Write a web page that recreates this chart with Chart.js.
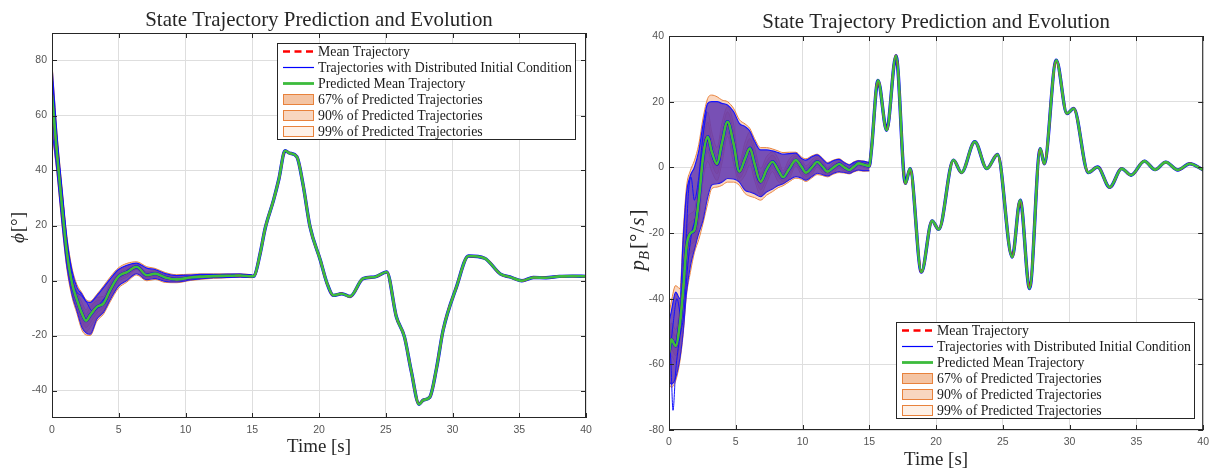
<!DOCTYPE html>
<html>
<head>
<meta charset="utf-8">
<script src="https://cdn.jsdelivr.net/npm/chart.js@4.4.1/dist/chart.umd.min.js"></script>
<style>
  html, body { margin: 0; padding: 0; background: #fff; }
  #wrap { position: relative; width: 1215px; height: 470px; }
  canvas { position: absolute; top: 0; }
  #phiChart { left: 0; }
  #pbChart { left: 610px; }
</style>
</head>
<body>
<div id="wrap">
  <canvas id="phiChart" width="600" height="470"></canvas>
  <canvas id="pbChart" width="605" height="470"></canvas>
</div>
<script>
// ticks
const timeTicks = [0, 5, 10, 15, 20, 25, 30, 35, 40];
const phiTicks = [-40, -20, 0, 20, 40, 60, 80];
const pbTicks = [-80, -60, -40, -20, 0, 20, 40];

const legendLabels = [
  'Mean Trajectory',
  'Trajectories with Distributed Initial Condition',
  'Predicted Mean Trajectory',
  '67% of Predicted Trajectories',
  '90% of Predicted Trajectories',
  '99% of Predicted Trajectories'
];

// ---- roll angle phi [deg] ----
const phiTime = [0, 0.37, 0.75, 1.12, 1.5, 1.87, 2.24, 2.55, 2.86, 3.36, 3.86, 4.35, 4.98, 5.6, 6.34, 7.1, 7.72, 8.48, 9.35, 10.35, 11.1, 12.1, 13.1, 14.1, 15.0,
  15.15, 15.6, 15.97, 16.6, 17.0, 17.46, 17.8, 18.34, 18.8, 19.33, 20.1, 20.6, 21.08, 21.7, 22.33, 23.3, 24.2, 25.07, 25.8, 26.4,
  26.9, 27.5, 27.8, 28.3, 28.8, 29.3, 30.3, 31.2, 32.4, 33.6, 34.3, 35.2, 36.05, 37.0, 38.0, 39.0, 40.0];
const phiMean = [67.6, 46.3, 26.9, 9.9, -1, -7.1, -12, -14.6, -12.6, -9.6, -8.3, -3.5, 1.5, 3.0, 5.0, 1.9, 2.5, 1.1, 0.4, 1.1, 1.4, 1.6, 1.7, 1.8, 1.5,
  1.7, 10, 19, 29.3, 37, 47.2, 46.3, 45, 35, 19.5, 7.4, -1, -5.4, -4.8, -5.8, 0.7, 1.3, 3.1, -13.3, -20.5,
  -32.7, -45, -43.5, -42.4, -32, -18, -2.3, 8.9, 8.1, 2.3, 1.3, -0.1, 1.1, 1.0, 1.5, 1.6, 1.5];
// spread of the trajectories, first 25 time points (t <= 15)
const phiBlueHi = [78, 53, 33, 15, 3.5, -2.5, -5, -7.5, -8, -5.5, -2.5, 0.5, 4, 5.5, 6.3, 4.5, 4, 2.5, 1.8, 2.0, 2.2, 2.2, 2.3, 2.3, 2.0];
const phiBlueLo = [55, 40, 21, 5, -5, -11, -17, -19, -19.5, -14, -11.5, -7, -2, 0, 2.5, 0.3, 0.8, -0.3, -0.5, 0.2, 0.6, 1.0, 1.1, 1.3, 1.1];
const phiHi99 = [79, 54, 34, 16, 4.5, -1.5, -4.5, -7, -7.5, -5, -2, 1.2, 4.6, 6.2, 6.8, 5, 4.4, 2.9, 2.1, 2.3, 2.4, 2.4, 2.4, 2.4, 2.1];
const phiLo99 = [54, 39, 20, 4, -6, -12, -18, -19.8, -20, -14.8, -12.2, -7.8, -2.8, -0.6, 2.0, -0.1, 0.4, -0.7, -0.8, 0, 0.4, 0.8, 1.0, 1.2, 1.0];
const phiHalf90 = [6, 4, 3.5, 3, 3, 3, 4, 4, 4.5, 3.5, 2.5, 2.5, 2, 1.8, 1.0, 1.2, 1.2, 1.0, 0.8, 0.7, 0.6, 0.5, 0.4, 0.4, 0.3];
const phiHalf67 = [3.5, 2.5, 2, 2, 2, 2, 2.5, 2.5, 2.8, 2.2, 1.6, 1.6, 1.3, 1.1, 0.7, 0.8, 0.8, 0.6, 0.5, 0.4, 0.4, 0.3, 0.3, 0.3, 0.2];
const phiTrajTime = [0, 0.4, 0.8, 1.2, 1.6, 1.9, 2.2, 2.6, 3.0, 3.5, 4.0];
const phiTrajVal = [75, 50, 30, 11, -1, -4.5, -5.5, -8, -11, -9, -6];

// ---- roll rate p_B [deg/s] ----
const pbTime = [0, 0.17, 0.5, 0.82, 1.06, 1.31, 1.6, 1.9, 2.23, 2.55, 2.9, 3.2, 3.6, 3.96, 4.38, 4.83, 5.27, 5.7, 6.06, 6.4,
  6.86, 7.3, 7.75, 8.17, 8.54, 9.0, 9.5, 9.9, 10.25, 10.7, 11.1, 11.5, 11.87, 12.3, 12.74, 13.1, 13.5, 13.85, 14.2, 14.6, 15.0,
  15.15, 15.65, 16.3, 17.0, 17.7, 18.05, 18.9, 19.7, 20.2, 21.3, 21.9, 22.9, 23.8, 24.6, 25.7, 26.3, 27.0, 27.8, 28.1, 29.0,
  29.8, 30.3, 31.4, 32.1, 33.0, 33.9, 34.6, 35.6, 36.4, 37.2, 38.1, 39.0, 40.0];
const pbMean = [-56.6, -52.4, -54.4, -47.5, -37.4, -24.2, -20.1, -19.1, -10, 3.2, 9.3, 4.8, 1.0, 7.3, 13.9, 7.3, -1.3, 2.7, 5.8, 1.2,
  -4.4, -0.8, 1.7, -0.8, -3.0, -0.5, 2.2, 0.3, -1.6, 0, 1.7, 0.2, -1.3, -0.1, 1.0, 0.1, -0.8, 0.2, 1.2, 0.8, 0.4,
  5, 26.5, 11.3, 34, -4.9, -0.4, -31.9, -16.3, -18.9, 2.2, -1.6, 7.8, -0.4, 3.9, -27.3, -10, -36.9, 5.7, 1.1, 32.6,
  16.4, 17.9, -1.6, 0.1, -6.1, -0.4, -2.4, 1.9, -0.7, 1.6, -0.8, 1.1, -0.8];
// spread of the trajectories, first 41 time points (t <= 15)
const pbBlueHi = [-47, -44, -38, -40, -22, -8, -2.5, 0, 5, 13, 19.5, 20, 20, 19.5, 19, 17, 13.4, 12.4, 11, 8,
  5.3, 5.3, 5, 4.5, 4, 4.2, 4.3, 2.8, 2.2, 3.2, 3.8, 2.5, 1.2, 2.0, 2.4, 1.5, 0.7, 1.5, 2.0, 1.8, 1.4];
const pbBlueLo = [-65, -66, -64, -58, -50, -38, -30, -25, -20, -16, -9, -5.4, -5, -4.5, -3.4, -3.5, -4.5, -7, -7.5, -8,
  -8.9, -7.5, -6.6, -5.5, -5, -3.8, -2.8, -3.2, -3.9, -2.8, -1.8, -2.2, -2.6, -1.8, -1.3, -1.5, -1.8, -1.2, -0.8, -1.0, -1.0];
const pbHi99 = [-45, -41, -36, -37, -20, -6, -1, 2, 7, 15, 21, 22, 21.5, 20.5, 20, 18, 14.5, 13.2, 11.8, 8.8,
  6, 6, 5.6, 5, 4.5, 4.6, 4.6, 3.2, 2.6, 3.5, 4.0, 2.8, 1.5, 2.2, 2.6, 1.7, 0.9, 1.7, 2.1, 1.9, 1.5];
const pbLo99 = [-66, -67, -65, -59, -51, -39, -32, -26, -22, -17, -11, -6.5, -6, -5.5, -4.5, -4.5, -5.5, -8, -8.8, -9.2,
  -10, -8.5, -7.4, -6.2, -5.6, -4.4, -3.3, -3.6, -4.3, -3.2, -2.2, -2.5, -2.9, -2.1, -1.6, -1.7, -2.0, -1.4, -1.0, -1.2, -1.1];
const pbHalf90 = [4, 5, 5, 5, 6, 7, 6, 6, 6.5, 7, 7.5, 6, 5, 6, 4.5, 6, 3, 5, 5, 5,
  4, 4, 3, 3.5, 2, 3, 1.8, 2.5, 2, 2.2, 1.6, 1.8, 1.2, 1.5, 1.2, 1.2, 0.9, 1, 0.7, 0.8, 0.8];
const pbHalf67 = [2.5, 3, 3, 3, 3.5, 4, 3.5, 3.5, 4, 4, 4.5, 3.5, 3, 3.5, 3, 3.5, 2, 3, 3, 3,
  2.5, 2.5, 2, 2, 1.3, 1.8, 1.2, 1.5, 1.2, 1.3, 1, 1.1, 0.8, 0.9, 0.8, 0.7, 0.6, 0.6, 0.5, 0.5, 0.5];
const pbTrajATime = [0, 0.15, 0.3, 0.5, 0.8, 1.1, 1.4, 1.7, 2.0, 2.3];
const pbTrajAVal = [-48, -60, -74, -62, -52, -45, -30, -20, -15, -6];
const pbTrajBTime = [0, 0.3, 0.6, 0.9, 1.2, 1.45, 1.65, 1.9, 2.2, 2.5, 2.8];
const pbTrajBVal = [-60, -48, -40, -45, -30, -8, -3, -10, -4, 8, 17];

const SERIF = '"Liberation Serif", "Times New Roman", serif';
const SANS = '"Liberation Sans", Arial, sans-serif';
const AXIS = '#262626';
const ORANGE = '#e8823c';

function pts(times, vals) { return vals.map((v, i) => ({ x: times[i], y: v })); }
function shifted(times, base, half, sign) { return half.map((h, i) => ({ x: times[i], y: base[i] + sign * h })); }

function buildDatasets(d) {
  const early = d.time.slice(0, d.blueHi.length);
  const line = { pointRadius: 0, cubicInterpolationMode: 'monotone', fill: false, borderJoinStyle: 'round' };
  const sets = [
    { ...line, label: legendLabels[2], data: pts(d.time, d.mean), borderColor: '#3dbb3d', borderWidth: 2.6, order: 0 },
    { ...line, label: legendLabels[0], data: pts(d.time, d.mean), borderColor: '#ff0000', borderWidth: 2.2, borderDash: [6, 4], order: 1 },
    { ...line, label: legendLabels[1], data: pts(d.time, d.mean), borderColor: '#0000ff', borderWidth: 3.4, order: 2 }
  ];
  d.trajs.forEach(tr => sets.push({ ...line, data: pts(tr[0], tr[1]), borderColor: '#1212ff', borderWidth: 1, order: 2 }));
  sets.push(
    { ...line, data: pts(early, d.blueHi), borderColor: '#1414ff', borderWidth: 1.2, backgroundColor: 'rgba(92,50,178,0.82)', fill: '+1', order: 3 },
    { ...line, data: pts(early, d.blueLo), borderColor: '#1414ff', borderWidth: 1.2, order: 3 },
    { ...line, data: shifted(early, d.mean, d.h67, 1), borderColor: ORANGE, borderWidth: 0.8, backgroundColor: 'rgba(236,140,80,0.4)', fill: '+1', order: 4 },
    { ...line, data: shifted(early, d.mean, d.h67, -1), borderColor: ORANGE, borderWidth: 0.8, order: 4 },
    { ...line, data: shifted(early, d.mean, d.h90, 1), borderColor: ORANGE, borderWidth: 0.8, backgroundColor: 'rgba(240,150,90,0.35)', fill: '+1', order: 5 },
    { ...line, data: shifted(early, d.mean, d.h90, -1), borderColor: ORANGE, borderWidth: 0.8, order: 5 },
    { ...line, data: pts(early, d.hi99), borderColor: ORANGE, borderWidth: 1, backgroundColor: 'rgba(242,160,105,0.42)', fill: '+1', order: 6 },
    { ...line, data: pts(early, d.lo99), borderColor: ORANGE, borderWidth: 1, order: 6 }
  );
  return sets;
}

function fitSize(ctx, text, font, width) {
  ctx.font = '100px ' + font;
  return 100 * width / ctx.measureText(text).width;
}

// draws runs of text ({t, it, sub}) centred on (cx, cy), rotated by rot
function drawRuns(ctx, runs, cx, cy, size, rot) {
  ctx.save();
  ctx.translate(cx, cy);
  ctx.rotate(rot);
  const fontOf = r => (r.it ? 'italic ' : '') + (r.sub ? size * 0.7 : size) + 'px ' + SERIF;
  let total = 0;
  runs.forEach(r => { ctx.font = fontOf(r); total += ctx.measureText(r.t).width + (r.gap || 0); });
  let x = -total / 2;
  ctx.fillStyle = AXIS;
  ctx.textBaseline = 'alphabetic';
  ctx.textAlign = 'left';
  runs.forEach(r => {
    ctx.font = fontOf(r);
    ctx.fillText(r.t, x, (r.sub ? size * 0.22 : 0) + size * 0.33);
    x += ctx.measureText(r.t).width + (r.gap || 0);
  });
  ctx.restore();
}

const frame = {
  id: 'frame',
  afterDraw(chart, args, o) {
    const { ctx, chartArea: a, scales } = chart;
    ctx.save();
    // box and inward ticks
    ctx.strokeStyle = AXIS;
    ctx.lineWidth = 1;
    ctx.strokeRect(a.left + 0.5, a.top + 0.5, a.right - a.left - 1, a.bottom - a.top - 1);
    ctx.beginPath();
    timeTicks.forEach(v => {
      const px = Math.round(scales.x.getPixelForValue(v)) + 0.5;
      ctx.moveTo(px, a.bottom); ctx.lineTo(px, a.bottom - 5);
      ctx.moveTo(px, a.top); ctx.lineTo(px, a.top + 5);
    });
    o.yTicks.forEach(v => {
      const py = Math.round(scales.y.getPixelForValue(v)) + 0.5;
      ctx.moveTo(a.left, py); ctx.lineTo(a.left + 5, py);
      ctx.moveTo(a.right, py); ctx.lineTo(a.right - 5, py);
    });
    ctx.stroke();

    // title
    const title = 'State Trajectory Prediction and Evolution';
    const ts = fitSize(ctx, title, SERIF, 348);
    ctx.font = ts + 'px ' + SERIF;
    ctx.fillStyle = AXIS;
    ctx.textAlign = 'center';
    ctx.textBaseline = 'alphabetic';
    ctx.fillText(title, (a.left + a.right) / 2, o.titleY);

    // x axis title
    const xs = fitSize(ctx, 'Time [s]', SERIF, 64);
    ctx.font = xs + 'px ' + SERIF;
    ctx.fillText('Time [s]', (a.left + a.right) / 2, o.xTitleY);

    // y axis title
    drawRuns(ctx, o.yRuns, o.yTitleX, (a.top + a.bottom) / 2 + o.yShift, o.ySize, -Math.PI / 2);

    // legend
    const L = o.legend;
    ctx.fillStyle = '#fff';
    ctx.fillRect(L.x, L.y, 299, 97);
    ctx.strokeStyle = AXIS;
    ctx.strokeRect(L.x + 0.5, L.y + 0.5, 298, 96);
    const ls = fitSize(ctx, legendLabels[1], SERIF, 254);
    const swatch = [
      { c: '#ff0000', w: 2.4, dash: [7, 4.5] },
      { c: '#0000ff', w: 1.2 },
      { c: '#3dbb3d', w: 2.8 },
      { fill: '#f4c4a3' },
      { fill: '#f8d6c0' },
      { fill: '#fdf0e6' }
    ];
    legendLabels.forEach((lab, i) => {
      const cy = L.y + 8.5 + i * 16;
      const s = swatch[i];
      if (s.fill) {
        ctx.fillStyle = s.fill;
        ctx.fillRect(L.x + 6, cy - 5.5, 31, 11);
        ctx.strokeStyle = ORANGE;
        ctx.lineWidth = 1;
        ctx.strokeRect(L.x + 6.5, cy - 5, 30, 10);
      } else {
        ctx.strokeStyle = s.c;
        ctx.lineWidth = s.w;
        ctx.setLineDash(s.dash || []);
        ctx.beginPath();
        ctx.moveTo(L.x + 6, cy); ctx.lineTo(L.x + 37, cy);
        ctx.stroke();
        ctx.setLineDash([]);
      }
      ctx.fillStyle = '#1a1a1a';
      ctx.font = ls + 'px ' + SERIF;
      ctx.textAlign = 'left';
      ctx.textBaseline = 'middle';
      ctx.fillText(lab, L.x + 41, cy + 0.5);
    });
    ctx.restore();
  }
};

function makeChart(id, d, cfg) {
  const tickFont = { family: SANS, size: 10.5 };
  new Chart(document.getElementById(id), {
    type: 'line',
    data: { datasets: buildDatasets(d) },
    options: {
      responsive: false,
      animation: false,
      events: [],
      layout: { padding: { left: 0, top: cfg.top, right: cfg.right, bottom: 0 } },
      plugins: { legend: { display: false }, tooltip: { enabled: false }, frame: cfg.frame },
      scales: {
        x: {
          type: 'linear', min: 0, max: 40,
          afterBuildTicks: s => { s.ticks = timeTicks.map(v => ({ value: v })); },
          afterFit: s => { s.height = cfg.xHeight; },
          grid: { color: '#dedede', drawTicks: false },
          border: { display: false },
          ticks: { padding: 6, color: '#555555', font: tickFont, maxRotation: 0, autoSkip: false }
        },
        y: {
          type: 'linear', min: cfg.yMin, max: cfg.yMax,
          afterBuildTicks: s => { s.ticks = cfg.frame.yTicks.map(v => ({ value: v })); },
          afterFit: s => { s.width = cfg.yWidth; },
          grid: { color: '#dedede', drawTicks: false },
          border: { display: false },
          ticks: { padding: 5, color: '#555555', font: tickFont, autoSkip: false }
        }
      }
    },
    plugins: [frame]
  });
}

makeChart('phiChart', {
  time: phiTime, mean: phiMean, blueHi: phiBlueHi, blueLo: phiBlueLo,
  hi99: phiHi99, lo99: phiLo99, h90: phiHalf90, h67: phiHalf67,
  trajs: [[phiTrajTime, phiTrajVal]]
}, {
  top: 33, right: 14, xHeight: 52, yWidth: 52, yMin: -50, yMax: 90,
  frame: {
    yTicks: phiTicks, titleY: 26, xTitleY: 452, yTitleX: 18, yShift: 2, ySize: 19,
    yRuns: [{ t: '\u03D5', it: true, gap: 1 }, { t: '[\u00B0]' }],
    legend: { x: 277, y: 43 }
  }
});

makeChart('pbChart', {
  time: pbTime, mean: pbMean, blueHi: pbBlueHi, blueLo: pbBlueLo,
  hi99: pbHi99, lo99: pbLo99, h90: pbHalf90, h67: pbHalf67,
  trajs: [[pbTrajATime, pbTrajAVal], [pbTrajBTime, pbTrajBVal]]
}, {
  top: 36, right: 10, xHeight: 40, yWidth: 59, yMin: -80, yMax: 40,
  frame: {
    yTicks: pbTicks, titleY: 28, xTitleY: 465, yTitleX: 27, yShift: 7, ySize: 21,
    yRuns: [{ t: 'p', it: true }, { t: 'B', it: true, sub: true, gap: 2 }, { t: '[\u00B0', gap: 1 }, { t: '/', gap: 1 }, { t: 's', it: true, gap: 1 }, { t: ']' }],
    legend: { x: 286, y: 322 }
  }
});
</script>
</body>
</html>
